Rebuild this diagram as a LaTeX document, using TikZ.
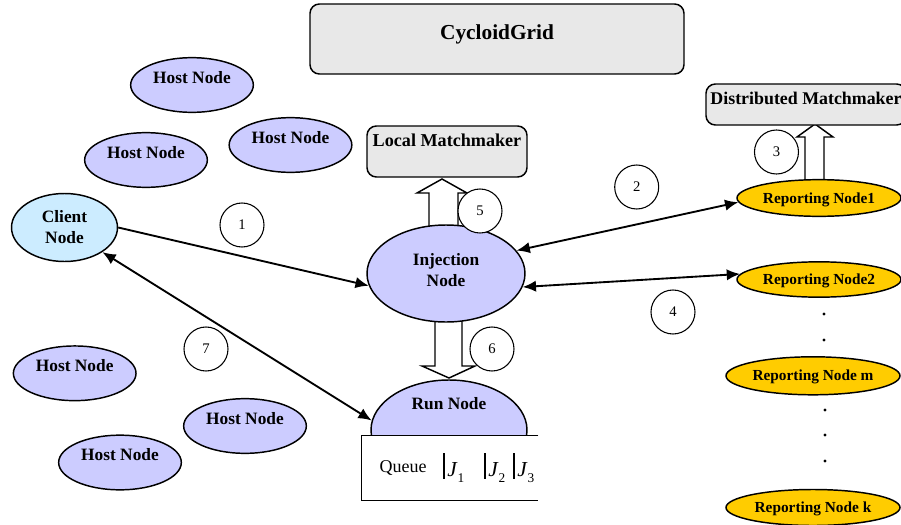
\documentclass[tikz,border=0pt]{standalone}
\usepackage{fontspec}
\setmainfont{Liberation Serif}
\usetikzlibrary{shapes.geometric,arrows.meta}

\definecolor{hostfill}{HTML}{CCCCFF}
\definecolor{clientfill}{HTML}{CCECFF}
\definecolor{repfill}{HTML}{FFCC00}
\definecolor{boxfill}{HTML}{E8E8E8}

\begin{document}
\begin{tikzpicture}[x=0.75pt,y=-0.75pt,
  every node/.style={inner sep=0pt},
  oval/.style={ellipse, draw, line width=1.1pt},
  host/.style={oval, fill=hostfill, minimum width=92pt, minimum height=41pt,
    font=\fontsize{13}{15}\selectfont\bfseries, text height=8.6pt, text depth=11pt},
  bignode/.style={oval, fill=hostfill, align=center,
    font=\fontsize{13}{15.75}\selectfont\bfseries},
  report/.style={oval, fill=repfill, minimum height=27pt,
    font=\fontsize{11.5}{13}\selectfont\bfseries, text height=7.6pt, text depth=0pt},
  graybox/.style={draw, line width=1.1pt, fill=boxfill, rounded corners=7pt},
  stepnum/.style={circle, draw, line width=0.8pt, fill=white, minimum size=33pt,
    font=\fontsize{11}{13}\selectfont},
  link/.style={line width=1.4pt, {Latex[length=10pt,width=8.5pt]}-{Latex[length=10pt,width=8.5pt]}},
  fwd/.style={line width=1.4pt, -{Latex[length=10pt,width=8.5pt]}},
  fatarrow/.style={draw, line width=1.1pt, fill=white, line join=miter},
  jtxt/.style={font=\fontsize{16}{18}\selectfont, anchor=base west}
]
\useasboundingbox (0,0) rectangle (901,525);
\clip (0,0) rectangle (901,525);

% hollow block arrows (their tails run under the nodes)
\draw[fatarrow] (429,245) -- (429,193) -- (417,193) -- (442,179)
  -- (467,193) -- (458,193) -- (458,245) -- cycle;
\draw[fatarrow] (435,310) -- (435,366) -- (422,366) -- (449,378)
  -- (475,366) -- (462,366) -- (462,310) -- cycle;
\draw[fatarrow] (805,195) -- (805,137) -- (797,137) -- (815,124)
  -- (833,137) -- (824,137) -- (824,195) -- cycle;

% boxes
\node[graybox, minimum width=280.5pt, minimum height=52.5pt,
  font=\fontsize{16}{18}\selectfont\bfseries, text height=10.6pt, text depth=10.5pt]
  (grid) at (497,39) {CycloidGrid};
\node[graybox, minimum width=120pt, minimum height=38.25pt,
  font=\fontsize{13.6}{15}\selectfont\bfseries, text height=9pt, text depth=15.8pt]
  (local) at (447,151.5) {Local Matchmaker};
\node[graybox, minimum width=150pt, minimum height=30.75pt,
  font=\fontsize{13.4}{15}\selectfont\bfseries, text height=8.8pt, text depth=8.2pt]
  (dist) at (806,104.5) {Distributed Matchmaker};

% host nodes
\node[host] (h1) at (192,85) {Host Node};
\node[host] (h2) at (146,160) {Host Node};
\node[host] (h3) at (290.5,145) {Host Node};
\node[host] (h4) at (74.7,373.3) {Host Node};
\node[host] (h5) at (245,426) {Host Node};
\node[host] (h6) at (120,462.5) {Host Node};

% main nodes
\node[bignode, fill=clientfill, minimum width=79.5pt, minimum height=51pt]
  (client) at (64.5,227.5) {Client\\Node};
\node[bignode, minimum width=118.5pt, minimum height=72.75pt]
  (inj) at (446,273.5) {Injection\\Node\\[-11pt]};
\node[oval, fill=hostfill, minimum width=117pt, minimum height=75pt,
  font=\fontsize{13}{15}\selectfont\bfseries, text height=8.6pt, text depth=39pt]
  (run) at (449,430) {Run Node};

% job queue under the run node, open on its right side
\node[fill=white, minimum width=132pt, minimum height=48pt] (queue) at (450,468) {};
\draw[line width=1.1pt] (queue.north east) -- (queue.north west)
  -- (queue.south west) -- (queue.south east);
\node[font=\fontsize{13.5}{15}\selectfont] (qlabel) at (403,468) {Queue};
\draw[line width=0.8pt] (444,453) -- (444,479) (485,453) -- (485,479) (514,453) -- (514,479);
\node[jtxt] (j1) at (447,476) {\textit{J}\raisebox{-4.5pt}{\fontsize{10}{10}\selectfont 1}};
\node[jtxt] (j2) at (488,476) {\textit{J}\raisebox{-4.5pt}{\fontsize{10}{10}\selectfont 2}};
\node[jtxt] (j3) at (517,476) {\textit{J}\raisebox{-4.5pt}{\fontsize{10}{10}\selectfont 3}};

% reporting nodes
\node[report, minimum width=123pt, minimum height=27.5pt] (r1) at (819,198) {Reporting Node1};
\node[report, minimum width=123pt, minimum height=26.5pt] (r2) at (819,279.5) {Reporting Node2};
\node[report, minimum width=130.5pt, minimum height=28.5pt] (rm) at (813,375.8) {Reporting Node m};
\node[report, minimum width=130.5pt, minimum height=27pt] (rk) at (813,507.5) {Reporting Node k};

% ellipsis dots between reporting nodes
\foreach \yy in {314,340} \fill (824,\yy) circle[radius=1.6];
\foreach \yy in {410,435,461} \fill (825,\yy) circle[radius=1.6];

% message connectors
\draw[fwd] (client.east) -- (inj.189.5);
\draw[link] (inj.18.5) -- (r1.183.3);
\draw[link] (inj.-10) -- (r2.176.8);
\draw[link] (client.-33.6) -- (run.173.7);

% step numbers
\node[stepnum] (s1) at (242,225) {1};
\node[stepnum] (s2) at (636.7,187) {2};
\node[stepnum] (s3) at (776.5,152) {3};
\node[stepnum] (s4) at (673,312) {4};
\node[stepnum] (s5) at (480,211) {5};
\node[stepnum] (s6) at (492,349) {6};
\node[stepnum] (s7) at (206,349) {7};
\end{tikzpicture}
\end{document}
